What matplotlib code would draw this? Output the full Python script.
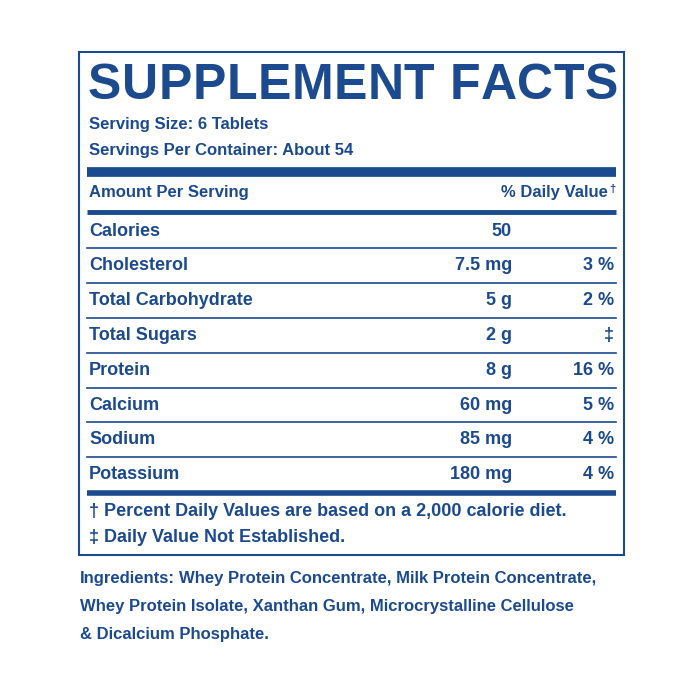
import matplotlib
matplotlib.use("Agg")
import matplotlib.pyplot as plt

title = "SUPPLEMENT FACTS"
serving = ["Serving Size: 6 Tablets", "Servings Per Container: About 54"]
nutrients = ["Calories", "Cholesterol", "Total Carbohydrate", "Total Sugars",
             "Protein", "Calcium", "Sodium", "Potassium"]
amounts = ["50", "7.5 mg", "5 g", "2 g", "8 g", "60 mg", "85 mg", "180 mg"]
daily = ["", "3 %", "2 %", "‡", "16 %", "5 %", "4 %", "4 %"]
footnotes = ["† Percent Daily Values are based on a 2,000 calorie diet.",
             "‡ Daily Value Not Established."]
ingredients = ["Whey Protein Concentrate, Milk Protein Concentrate,",
               "Whey Protein Isolate, Xanthan Gum, Microcrystalline Cellulose",
               "& Dicalcium Phosphate."]

C = "#1b4a8f"
F = ["Liberation Sans", "DejaVu Sans"]
fig = plt.figure(figsize=(7, 7), dpi=100)
ax = fig.add_axes([0, 0, 1, 1])
ax.set_xlim(0, 700); ax.set_ylim(700, 0); ax.axis("off")
fig.canvas.draw()
r = fig.canvas.get_renderer()

def width(t):
    return t.get_window_extent(r).width

ax.add_patch(plt.Rectangle((79, 52), 545, 503, fill=False, ec=C, lw=1.5))

# letter-spaced title
chars = list(title)
ts = [ax.text(0, 86, ch, fontsize=36, fontweight="bold", color=C, family=F, va="center") for ch in chars]
ws = [width(t) if ch != " " else 14 for t, ch in zip(ts, chars)]
extra = (618 - 88 - sum(ws)) / (len(chars) - 1)
x = 88
for t, w in zip(ts, ws):
    t.set_x(x); x += w + extra

for i, s in enumerate(serving):
    ax.text(89, 125 + 26 * i, s, fontsize=12, fontweight="bold", color=C, family=F, va="center")
ax.plot([87, 616], [172, 172], color=C, lw=7, solid_capstyle="butt")
ax.text(89, 193, "Amount Per Serving", fontsize=12, fontweight="bold", color=C, family=F, va="center")
ax.text(608, 193, "% Daily Value", fontsize=12, fontweight="bold", color=C, family=F, va="center", ha="right")
ax.text(609, 189, "†", fontsize=8, fontweight="bold", color=C, family=F, va="center")
ax.plot([87, 616], [212, 212], color=C, lw=3.5, solid_capstyle="butt")
y0, dy = 231, 34.8
for i, (n, a, d) in enumerate(zip(nutrients, amounts, daily)):
    y = y0 + dy * i
    ax.text(89, y, n, fontsize=13, fontweight="bold", color=C, family=F, va="center")
    ax.text(512, y, a, fontsize=13, fontweight="bold", color=C, family=F, va="center", ha="right")
    ax.text(614, y, d, fontsize=13, fontweight="bold", color=C, family=F, va="center", ha="right")
    if i < len(nutrients) - 1:
        ax.plot([87, 616], [y + dy / 2, y + dy / 2], color=C, lw=1.2)
ax.plot([87, 616], [493, 493], color=C, lw=4, solid_capstyle="butt")
for i, s in enumerate(footnotes):
    ax.text(89, 512 + 26 * i, s, fontsize=13, fontweight="bold", color=C, family=F, va="center")
lab = ax.text(80, 578, "Ingredients:", fontsize=12, fontweight="heavy", color=C, family=F, va="center")
lw_ = width(lab)
ax.text(80 + lw_ + 4, 578, ingredients[0], fontsize=12, fontweight="bold", color=C, family=F, va="center")
for i, s in enumerate(ingredients[1:]):
    ax.text(80, 606 + 28 * i, s, fontsize=12, fontweight="bold", color=C, family=F, va="center")
fig.savefig("out.png", dpi=100, facecolor="white")
